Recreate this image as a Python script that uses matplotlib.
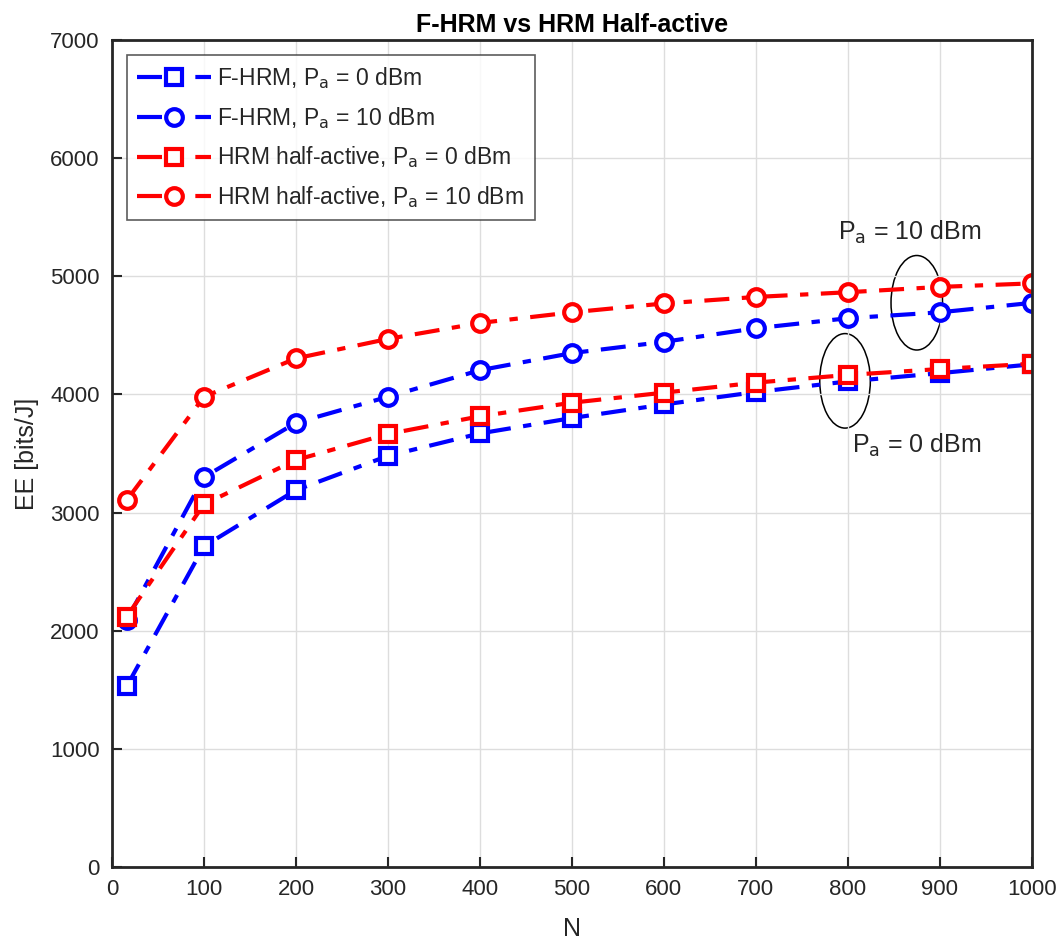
import matplotlib
matplotlib.use("Agg")
import matplotlib.pyplot as plt
from matplotlib.patches import Ellipse

plt.rcParams['font.family'] = ['Liberation Sans', 'DejaVu Sans']
plt.rcParams['text.color'] = '#262626'
plt.rcParams['axes.labelcolor'] = '#262626'
plt.rcParams['xtick.color'] = '#262626'
plt.rcParams['ytick.color'] = '#262626'

N = [16, 100, 200, 300, 400, 500, 600, 700, 800, 900, 1000]
fhrm_0 = [1530, 2715, 3190, 3480, 3670, 3800, 3915, 4020, 4110, 4180, 4255]
fhrm_10 = [2090, 3300, 3760, 3980, 4205, 4350, 4445, 4560, 4645, 4695, 4775]
hrm_0 = [2120, 3070, 3445, 3665, 3815, 3930, 4015, 4100, 4165, 4215, 4260]
hrm_10 = [3105, 3980, 4305, 4470, 4605, 4695, 4770, 4825, 4865, 4910, 4940]

labels = [r'F-HRM, P$_{\rm a}$ = 0 dBm', r'F-HRM, P$_{\rm a}$ = 10 dBm',
          r'HRM half-active, P$_{\rm a}$ = 0 dBm', r'HRM half-active, P$_{\rm a}$ = 10 dBm']

fig = plt.figure(figsize=(10.62, 9.44), dpi=100)
ax = fig.add_axes([0.1055, 0.0816, 0.866, 0.876])

series = [(fhrm_0, 'blue', 's'), (fhrm_10, 'blue', 'o'), (hrm_0, 'red', 's'), (hrm_10, 'red', 'o')]
for (vals, c, m), lab in zip(series, labels):
    ax.plot(N, vals, color=c, marker=m, linestyle='-.', linewidth=3, markersize=12,
            markerfacecolor='white', markeredgewidth=3, label=lab, dashes=(6, 3, 2, 3))

ax.set_xlim(0, 1000)
ax.set_ylim(0, 7000)
ax.set_xticks(range(0, 1001, 100))
ax.set_yticks(range(0, 7001, 1000))
ax.grid(True, color='#dddddd', linewidth=1)
ax.tick_params(direction='in', length=7, width=1.5, labelsize=16, pad=9)
for s in ax.spines.values():
    s.set_linewidth(2)
    s.set_color('#262626')

ax.set_xlabel('N', fontsize=18, labelpad=12)
ax.set_ylabel('EE [bits/J]', fontsize=18, labelpad=8)
ax.set_title('F-HRM vs HRM Half-active', fontsize=18, fontweight='bold', pad=6,
             color='black')

leg = ax.legend(loc='upper left', fontsize=16.5, frameon=True, fancybox=False,
                edgecolor='#333333', handlelength=3.2, handletextpad=0.3,
                borderaxespad=0.65, borderpad=0.45, labelspacing=0.6)
leg.get_frame().set_linewidth(1.2)

ax.add_patch(Ellipse((875, 4776), 56, 800, fill=False, edgecolor='black', linewidth=1.1))
ax.add_patch(Ellipse((797, 4115), 55, 800, fill=False, edgecolor='black', linewidth=1.1))
ax.text(867, 5370, r'P$_{\rm a}$ = 10 dBm', fontsize=18, ha='center', va='center')
ax.text(875, 3570, r'P$_{\rm a}$ = 0 dBm', fontsize=18, ha='center', va='center')

fig.savefig('out.png', dpi=100)
